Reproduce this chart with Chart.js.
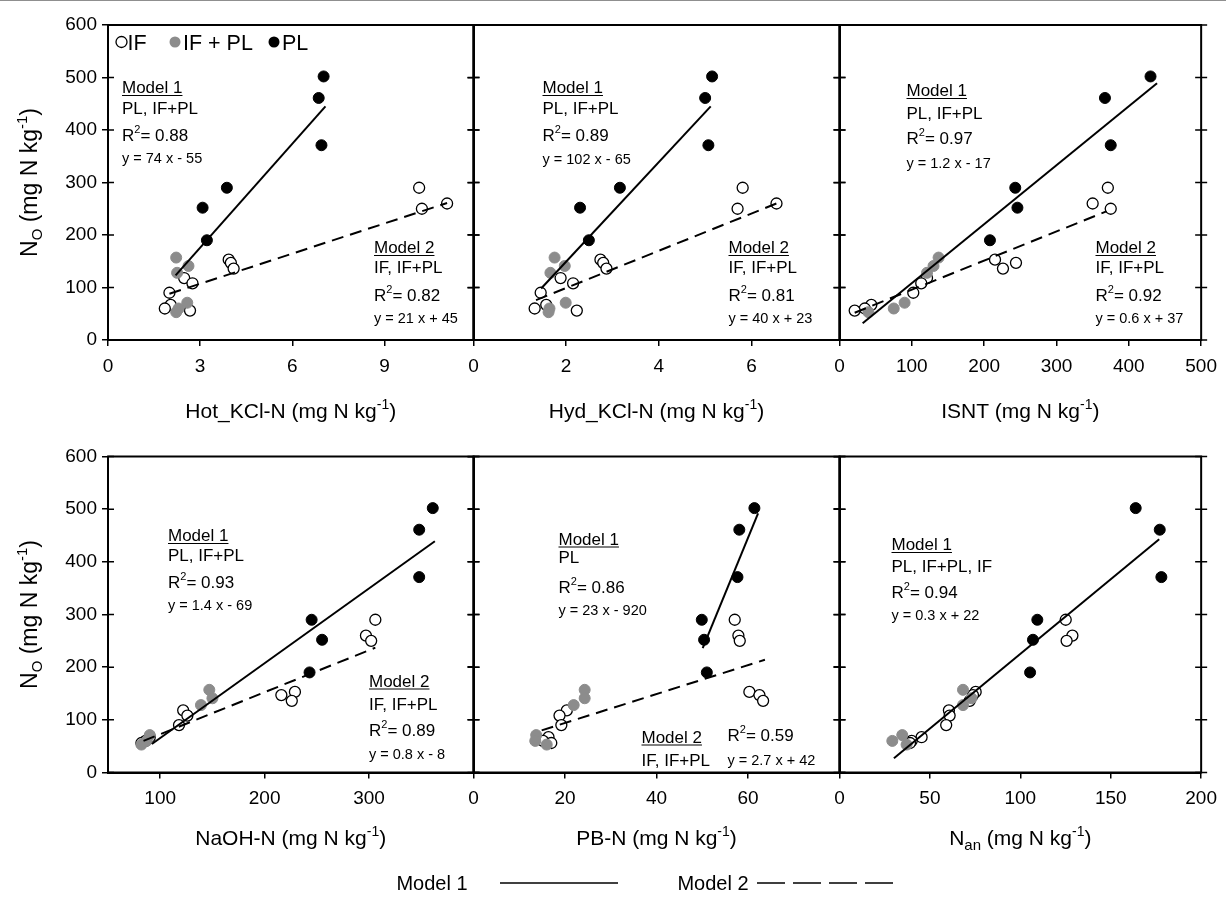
<!DOCTYPE html>
<html>
<head>
<meta charset="utf-8">
<script src="https://cdn.jsdelivr.net/npm/chart.js@4.4.0/dist/chart.umd.min.js"></script>
<style>
  html, body { margin: 0; padding: 0; background: #fff; }
  #wrap { position: relative; width: 1226px; height: 915px; overflow: hidden; }
  #wrap canvas { position: absolute; left: 0; top: 0; }
  #topline { position: absolute; left: 0; top: 0; width: 1226px; height: 1px; background: #8f8f8f; }
</style>
</head>
<body>
<div id="wrap"><div id="topline"></div></div>
<script>
// N_O values (y), shared by all six panels
const noIF   = [290, 260, 250, 153, 147, 136, 118, 108, 90, 67, 60, 56];
const noIFPL = [157, 141, 128, 71, 60, 53];
const noPL   = [502, 461, 371, 290, 252, 190];

// x values per panel, same order as the N_O arrays
const hotIF   = [10.13, 11.04, 10.22, 3.93, 4.0, 4.09, 2.48, 2.75, 2.0, 2.04, 1.85, 2.67];
const hotIFPL = [2.22, 2.62, 2.25, 2.58, 2.3, 2.22];
const hotPL   = [7.02, 6.86, 6.95, 3.87, 3.08, 3.22];

const hydIF   = [5.81, 6.54, 5.70, 2.74, 2.80, 2.87, 1.88, 2.15, 1.45, 1.57, 1.32, 2.23];
const hydIFPL = [1.75, 1.97, 1.66, 1.99, 1.64, 1.62];
const hydPL   = [5.15, 5.0, 5.07, 3.16, 2.30, 2.49];

const isntIF   = [371, 350, 375, 215, 244, 226, 121, 113, 102, 44, 35, 21];
const isntIFPL = [137, 130, 121, 90, 75, 40];
const isntPL   = [430, 367, 375, 243, 246, 208];

const naohIF   = [306, 297, 302, 229, 216, 226, 122, 126, 118, 90, 86, 82];
const naohIFPL = [147, 150, 139, 90, 87, 82];
const naohPL   = [361, 348, 348, 245, 255, 243];

const pbIF   = [57.1, 57.9, 58.2, 60.3, 62.5, 63.3, 20.4, 18.8, 19.2, 16.4, 15.2, 17.0];
const pbIFPL = [24.3, 24.3, 21.9, 13.7, 13.5, 16.0];
const pbPL   = [61.4, 58.1, 57.7, 49.9, 50.4, 51.0];

const nanIF   = [125.1, 128.8, 125.6, 75.3, 73.8, 72.0, 60.5, 60.9, 59.0, 45.4, 39.9, 39.0];
const nanIFPL = [68.3, 73.0, 68.3, 34.7, 29.2, 37.1];
const nanPL   = [163.8, 177.1, 178.0, 109.4, 107.0, 105.4];

// regression line end points
const hotFit1X = [2.2, 7.08],   hotFit1Y = [123, 445];
const hotFit2X = [2.0, 11.04],  hotFit2Y = [88, 261];
const hydFit1X = [1.46, 5.12],  hydFit1Y = [98, 445];
const hydFit2X = [1.35, 6.54],  hydFit2Y = [76, 260];
const isntFit1X = [32, 439],    isntFit1Y = [32, 489];
const isntFit2X = [21, 369],    isntFit2Y = [52, 245];
const naohFit1X = [92, 363],    naohFit1Y = [54, 439];
const naohFit2X = [84, 306],    naohFit2Y = [60, 237];
const pbFit1X = [50.1, 62.2],   pbFit1Y = [236, 492];
const pbFit2X = [14.9, 63.7],   pbFit2Y = [80, 214];
const nanFit1X = [30.1, 176.8], nanFit1Y = [27, 443];

// tick labels
const yTicks    = [0, 100, 200, 300, 400, 500, 600];
const hotTicks  = [0, 3, 6, 9];
const hydTicks  = [0, 2, 4, 6];
const isntTicks = [0, 100, 200, 300, 400, 500];
const naohTicks = [100, 200, 300];
const pbTicks   = [0, 20, 40, 60];
const nanTicks  = [0, 50, 100, 150, 200];

const W = 1226, H = 915, YW = 50, XH = 60;
const FONT = "'Liberation Sans', Arial, Helvetica, sans-serif";
const f = s => s + 'px ' + FONT;

// draw a run of text pieces [text, size, dy]
function drawRich(ctx, parts, x, y, align) {
  let w = 0;
  parts.forEach(p => { ctx.font = f(p[1]); w += ctx.measureText(p[0]).width; });
  let cx = align === 'center' ? x - w / 2 : x;
  ctx.textAlign = 'left';
  ctx.textBaseline = 'alphabetic';
  parts.forEach(p => {
    ctx.font = f(p[1]);
    ctx.fillText(p[0], cx, y + (p[2] || 0));
    cx += ctx.measureText(p[0]).width;
  });
  return w;
}

const unit = [[' (mg N kg', 21], ['-1', 14, -9], [')', 21]];
const yUnit = [[' (mg N kg', 23], ['-1', 15, -10], [')', 23]];

const panels = [
  { xIF: hotIF, xIFPL: hotIFPL, xPL: hotPL, f1: [hotFit1X, hotFit1Y], f2: [hotFit2X, hotFit2Y],
    min: 0, max: 11.9, ticks: hotTicks, box: [108, 25, 473.5, 340], showY: true, legend: true,
    title: [['Hot_KCl-N', 21]].concat(unit),
    notes: [[14, 62, 'h', 'Model 1'], [14, 83, 't', 'PL, IF+PL'], [14, 110, 'r', '0.88'], [14, 133, 'e', 'y = 74 x - 55'],
            [266, 222, 'h', 'Model 2'], [266, 242, 't', 'IF, IF+PL'], [266, 270, 'r', '0.82'], [266, 293, 'e', 'y = 21 x + 45']] },
  { xIF: hydIF, xIFPL: hydIFPL, xPL: hydPL, f1: [hydFit1X, hydFit1Y], f2: [hydFit2X, hydFit2Y],
    min: 0, max: 7.9, ticks: hydTicks, box: [473.5, 25, 839.5, 340],
    title: [['Hyd_KCl-N', 21]].concat(unit),
    notes: [[69, 62, 'h', 'Model 1'], [69, 83, 't', 'PL, IF+PL'], [69, 110, 'r', '0.89'], [69, 134, 'e', 'y = 102 x - 65'],
            [255, 222, 'h', 'Model 2'], [255, 242, 't', 'IF, IF+PL'], [255, 270, 'r', '0.81'], [255, 293, 'e', 'y = 40 x + 23']] },
  { xIF: isntIF, xIFPL: isntIFPL, xPL: isntPL, f1: [isntFit1X, isntFit1Y], f2: [isntFit2X, isntFit2Y],
    min: 0, max: 500, ticks: isntTicks, box: [839.5, 25, 1205.5, 340],
    title: [['ISNT', 21]].concat(unit),
    notes: [[67, 65, 'h', 'Model 1'], [67, 88, 't', 'PL, IF+PL'], [67, 113, 'r', '0.97'], [67, 138, 'e', 'y = 1.2 x - 17'],
            [256, 222, 'h', 'Model 2'], [256, 242, 't', 'IF, IF+PL'], [256, 270, 'r', '0.92'], [256, 293, 'e', 'y = 0.6 x + 37']] },
  { xIF: naohIF, xIFPL: naohIFPL, xPL: naohPL, f1: [naohFit1X, naohFit1Y], f2: [naohFit2X, naohFit2Y],
    min: 50, max: 400, ticks: naohTicks, box: [108, 456.5, 473.5, 772.5], showY: true,
    title: [['NaOH-N', 21]].concat(unit),
    notes: [[60, 78.5, 'h', 'Model 1'], [60, 98.5, 't', 'PL, IF+PL'], [60, 125, 'r', '0.93'], [60, 148.5, 'e', 'y = 1.4 x - 69'],
            [261, 224, 'h', 'Model 2'], [261, 247, 't', 'IF, IF+PL'], [261, 273.5, 'r', '0.89'], [261, 297.5, 'e', 'y = 0.8 x - 8']] },
  { xIF: pbIF, xIFPL: pbIFPL, xPL: pbPL, f1: [pbFit1X, pbFit1Y], f2: [pbFit2X, pbFit2Y],
    min: 0, max: 80, ticks: pbTicks, box: [473.5, 456.5, 839.5, 772.5],
    title: [['PB-N', 21]].concat(unit),
    notes: [[85, 82, 'h', 'Model 1'], [85, 100, 't', 'PL'], [85, 130, 'r', '0.86'], [85, 153.5, 'e', 'y = 23 x - 920'],
            [168, 280, 'h', 'Model 2'], [168, 303.5, 't', 'IF, IF+PL'], [254, 278.5, 'r', '0.59'], [254, 303.5, 'e', 'y = 2.7 x + 42']] },
  { xIF: nanIF, xIFPL: nanIFPL, xPL: nanPL, f1: [nanFit1X, nanFit1Y], f2: null,
    min: 0, max: 200, ticks: nanTicks, box: [839.5, 456.5, 1205.5, 772.5], bottomLegend: true,
    title: [['N', 21], ['an', 15, 5]].concat(unit),
    notes: [[52, 87.5, 'h', 'Model 1'], [52, 109.5, 't', 'PL, IF+PL, IF'], [52, 135, 'r', '0.94'], [52, 158.5, 'e', 'y = 0.3 x + 22']] }
];

function drawNote(ctx, a, n) {
  const x = a.left + n[0], cy = a.top + n[1];
  if (n[2] === 'e') {
    drawRich(ctx, [[n[3], 14.5]], x, cy + 5, 'left');
  } else if (n[2] === 'r') {
    drawRich(ctx, [['R', 17], ['2', 11, -8], ['= ' + n[3], 17]], x, cy + 6, 'left');
  } else {
    const w = drawRich(ctx, [[n[3], 17]], x, cy + 6, 'left');
    if (n[2] === 'h') {
      ctx.lineWidth = 1;
      ctx.beginPath(); ctx.moveTo(x, cy + 8.5); ctx.lineTo(x + w, cy + 8.5); ctx.stroke();
    }
  }
}

function dot(ctx, x, y, fill, stroke) {
  ctx.beginPath(); ctx.arc(x, y, 5.5, 0, Math.PI * 2);
  ctx.fillStyle = fill; ctx.fill();
  if (stroke) { ctx.lineWidth = 1.3; ctx.strokeStyle = stroke; ctx.stroke(); }
}

const panelPlugin = p => ({
  id: 'panelDecor',
  afterDraw(chart) {
    const { ctx, chartArea: a, scales: { y } } = chart;
    ctx.save();
    ctx.strokeStyle = '#000'; ctx.fillStyle = '#000';
    ctx.lineWidth = 2;
    ctx.strokeRect(a.left, a.top, a.right - a.left, a.bottom - a.top);
    // y ticks crossing both side borders
    ctx.lineWidth = 1.5;
    yTicks.forEach(v => {
      const py = y.getPixelForValue(v);
      ctx.beginPath();
      ctx.moveTo(a.left, py); ctx.lineTo(a.left + 6, py);
      ctx.moveTo(a.right - 6, py); ctx.lineTo(a.right + 6, py);
      ctx.stroke();
    });
    // annotations
    ctx.fillStyle = '#000'; ctx.strokeStyle = '#000';
    p.notes.forEach(n => drawNote(ctx, a, n));
    // x axis title
    drawRich(ctx, p.title, (a.left + a.right) / 2, a.bottom + (a.top < 200 ? 78 : 72), 'center');
    // y axis title
    if (p.showY) {
      ctx.save();
      ctx.translate(37, (a.top + a.bottom) / 2);
      ctx.rotate(-Math.PI / 2);
      drawRich(ctx, [['N', 23], ['O', 15, 5]].concat(yUnit), 0, 0, 'center');
      ctx.restore();
    }
    // group legend in first panel
    if (p.legend) {
      const ly = a.top + 17;
      dot(ctx, a.left + 13.5, ly, '#fff', '#000');
      dot(ctx, a.left + 67, ly, '#8c8c8c');
      dot(ctx, a.left + 166, ly, '#000');
      ctx.fillStyle = '#000';
      drawRich(ctx, [['IF', 21.5]], a.left + 19.5, ly + 7.5, 'left');
      drawRich(ctx, [['IF + PL', 21.5]], a.left + 75, ly + 7.5, 'left');
      drawRich(ctx, [['PL', 21.5]], a.left + 174, ly + 7.5, 'left');
    }
    // model line legend at the bottom of the figure
    if (p.bottomLegend) {
      const ly = 883;
      ctx.fillStyle = '#000';
      drawRich(ctx, [['Model 1', 20]], 432, ly + 7, 'center');
      drawRich(ctx, [['Model 2', 20]], 713, ly + 7, 'center');
      ctx.lineWidth = 1.6;
      ctx.beginPath(); ctx.moveTo(500, ly); ctx.lineTo(618, ly); ctx.stroke();
      ctx.setLineDash([28, 8]);
      ctx.beginPath(); ctx.moveTo(757, ly); ctx.lineTo(893, ly); ctx.stroke();
    }
    ctx.restore();
  }
});

const wrap = document.getElementById('wrap');
const pts = (xs, ys) => xs.map((x, i) => ({ x: x, y: ys[i] }));

panels.forEach(p => {
  const cv = document.createElement('canvas');
  cv.width = W; cv.height = H;
  wrap.appendChild(cv);
  const [L, T, R, B] = p.box;
  const datasets = [
    { label: 'Model 1', type: 'line', data: pts(p.f1[0], p.f1[1]), borderColor: '#000', borderWidth: 2,
      pointRadius: 0, fill: false, tension: 0, order: 0 }
  ];
  if (p.f2) {
    datasets.push({ label: 'Model 2', type: 'line', data: pts(p.f2[0], p.f2[1]), borderColor: '#000', borderWidth: 2,
      borderDash: [12, 7], pointRadius: 0, fill: false, tension: 0, order: 0 });
  }
  datasets.push(
    { label: 'PL', data: pts(p.xPL, noPL), backgroundColor: '#000', borderColor: '#000', borderWidth: 1,
      pointRadius: 5.5, pointHoverRadius: 5.5, order: 1 },
    { label: 'IF + PL', data: pts(p.xIFPL, noIFPL), backgroundColor: '#8c8c8c', borderColor: '#8c8c8c', borderWidth: 1,
      pointRadius: 5.5, pointHoverRadius: 5.5, order: 2 },
    { label: 'IF', data: pts(p.xIF, noIF), backgroundColor: '#fff', borderColor: '#000', borderWidth: 1.3,
      pointRadius: 5.5, pointHoverRadius: 5.5, order: 3 }
  );

  new Chart(cv, {
    type: 'scatter',
    data: { datasets },
    options: {
      responsive: false,
      animation: false,
      events: [],
      layout: { padding: { left: L - YW, top: T, right: W - R, bottom: H - B - XH } },
      plugins: { legend: { display: false }, tooltip: { enabled: false } },
      scales: {
        x: {
          type: 'linear', min: p.min, max: p.max,
          afterBuildTicks: s => { s.ticks = p.ticks.map(v => ({ value: v })); },
          afterFit: s => { s.height = XH; },
          ticks: { font: { family: FONT, size: 19 }, color: '#000', padding: 9, maxRotation: 0, autoSkip: false },
          grid: { drawOnChartArea: false, drawTicks: true, tickLength: 6, color: '#000', lineWidth: 1.5 },
          border: { display: true, color: '#000', width: 2 }
        },
        y: {
          type: 'linear', min: 0, max: 600,
          afterBuildTicks: s => { s.ticks = yTicks.map(v => ({ value: v })); },
          afterFit: s => { s.width = YW; },
          ticks: { display: !!p.showY, font: { family: FONT, size: 19 }, color: '#000', padding: 5 },
          grid: { drawOnChartArea: false, drawTicks: true, tickLength: 6, color: '#000', lineWidth: 1.5 },
          border: { display: true, color: '#000', width: 2 }
        }
      }
    },
    plugins: [panelPlugin(p)]
  });
});
</script>
</body>
</html>
